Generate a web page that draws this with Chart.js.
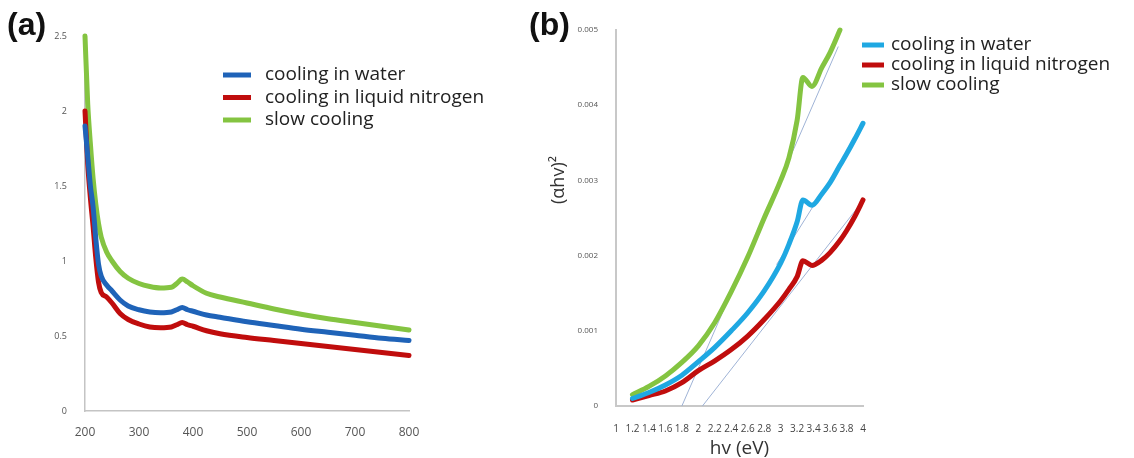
<!DOCTYPE html>
<html>
<head>
  <meta charset="utf-8">
  <title>Optical absorption and Tauc plot</title>
  <script src="https://cdn.jsdelivr.net/npm/chart.js"></script>
  <style>
    body { margin: 0; background: #fff; width: 1134px; height: 458px; position: relative; overflow: hidden; }
    canvas { position: absolute; top: 0; }
    #chartA { left: 0; }
    #chartB { left: 530px; }
    .tag { position: absolute; top: 8px; font: bold 32px "Liberation Sans", Arial, sans-serif; line-height: 32px; color: #111; }
  </style>
</head>
<body>

<canvas id="chartA" width="520" height="458"></canvas>
<canvas id="chartB" width="604" height="458"></canvas>
<div class="tag" style="left:7px">(a)</div>
<div class="tag" style="left:529px">(b)</div>

<script>
  // (a) wavelength (nm) vs absorbance
  const wavelength = [200, 205, 210, 215, 220, 225, 230, 240, 250, 265, 280, 300, 320, 340, 360, 370, 380, 390, 400, 425, 450, 500, 550, 600, 650, 700, 750, 800];
  const absWater    = [1.9, 1.7, 1.5, 1.36, 1.15, 0.98, 0.9, 0.84, 0.8, 0.74, 0.7, 0.675, 0.66, 0.655, 0.66, 0.675, 0.69, 0.675, 0.665, 0.64, 0.625, 0.595, 0.57, 0.545, 0.525, 0.505, 0.485, 0.47];
  const absNitrogen = [2.0, 1.65, 1.42, 1.23, 1.02, 0.86, 0.79, 0.76, 0.72, 0.65, 0.61, 0.58, 0.56, 0.555, 0.56, 0.575, 0.59, 0.575, 0.565, 0.535, 0.515, 0.49, 0.47, 0.45, 0.43, 0.41, 0.39, 0.37];
  const absSlow     = [2.5, 2.05, 1.78, 1.55, 1.38, 1.25, 1.16, 1.06, 1.0, 0.93, 0.885, 0.85, 0.83, 0.82, 0.825, 0.85, 0.88, 0.86, 0.835, 0.785, 0.76, 0.72, 0.68, 0.645, 0.615, 0.59, 0.565, 0.54];

  // (b) photon energy (eV) vs (alpha h nu)^2
  const hv = [1.2, 1.4, 1.6, 1.8, 2.0, 2.2, 2.4, 2.6, 2.8, 3.0, 3.1, 3.2, 3.27, 3.38, 3.5, 3.6, 3.72, 3.8, 3.9, 4.0];
  const taucWater    = [0.0001, 0.00018, 0.00028, 0.00041, 0.00059, 0.00078, 0.001, 0.00124, 0.00153, 0.0019, 0.00215, 0.00245, 0.00274, 0.00267, 0.00282, 0.00297, 0.0032, 0.00335, 0.00355, 0.00376];
  const taucNitrogen = [0.00008, 0.00014, 0.0002, 0.00031, 0.00047, 0.0006, 0.00075, 0.00093, 0.00115, 0.0014, 0.00155, 0.00172, 0.00193, 0.00187, 0.00194, 0.00204, 0.0022, 0.00233, 0.00252, 0.00274];
  const taucSlow     = [0.00015, 0.00026, 0.0004, 0.00058, 0.0008, 0.00111, 0.00152, 0.00198, 0.0025, 0.003, 0.0033, 0.0038, 0.00437, 0.00425, 0.0045, 0.0047, 0.005, null, null, null];

  // linear fits used for the band gap
  const fitSlowX = [1.8, 3.7];
  const fitSlowY = [0, 0.00478];
  const fitNitrogenX = [2.05, 4.0];
  const fitNitrogenY = [0, 0.00273];
  const fitWaterX = [2.95, 3.42];
  const fitWaterY = [0.00188, 0.0027];

  const seriesNames = ['cooling in water', 'cooling in liquid nitrogen', 'slow cooling'];

  function pts(xs, ys) {
    const out = [];
    xs.forEach((x, i) => { if (ys[i] !== null) out.push({ x: x, y: ys[i] }); });
    return out;
  }

  // short-line legend at a fixed spot, plus an optional rotated y title
  const lineLegend = {
    id: 'lineLegend',
    afterDraw(chart, args, opts) {
      const ctx = chart.ctx;
      ctx.save();
      ctx.font = opts.font;
      ctx.textBaseline = 'middle';
      let row = 0;
      chart.data.datasets.forEach(ds => {
        if (!ds.label) return;
        const y = opts.y + row * opts.gap;
        ctx.strokeStyle = ds.borderColor;
        ctx.lineWidth = 5;
        ctx.beginPath();
        ctx.moveTo(opts.x, y);
        ctx.lineTo(opts.x + opts.len, y);
        ctx.stroke();
        ctx.fillStyle = '#222';
        ctx.fillText(ds.label, opts.x + opts.len + opts.space, y);
        row++;
      });
      if (opts.yTitle) {
        ctx.translate(opts.yTitle.x, opts.yTitle.y);
        ctx.rotate(-Math.PI / 2);
        ctx.textAlign = 'center';
        ctx.font = opts.yTitle.font;
        ctx.fillStyle = '#333';
        ctx.fillText(opts.yTitle.text, 0, 0);
      }
      ctx.restore();
    }
  };

  function curve(label, data, color) {
    return { label: label, data: data, borderColor: color, borderWidth: 5, pointRadius: 0,
             cubicInterpolationMode: 'monotone', clip: false, borderCapStyle: 'round' };
  }
  function fit(data) {
    return { data: data, borderColor: '#9fb3d6', borderWidth: 1, pointRadius: 0, clip: false };
  }
  const oneDecimal = v => String(+v.toFixed(1));

  new Chart(document.getElementById('chartA'), {
    type: 'line',
    data: {
      datasets: [
        curve(seriesNames[0], pts(wavelength, absWater), '#1f63b8'),
        curve(seriesNames[1], pts(wavelength, absNitrogen), '#c00d0d'),
        curve(seriesNames[2], pts(wavelength, absSlow), '#84c441')
      ]
    },
    options: {
      responsive: false,
      animation: false,
      layout: { padding: { left: 40, right: 111, top: 36, bottom: 0 } },
      plugins: {
        legend: { display: false },
        tooltip: { enabled: false },
        lineLegend: { x: 223, y: 75, gap: 22.5, len: 28, space: 14, font: '19px "Open Sans", sans-serif' }
      },
      scales: {
        x: {
          type: 'linear', min: 200, max: 800,
          ticks: { stepSize: 100, padding: 14, color: '#555', font: { family: 'Open Sans', size: 12 } },
          grid: { display: false, drawTicks: false },
          border: { color: '#c4c4c4', width: 1.5 },
          afterFit: s => { s.height = 47; }
        },
        y: {
          min: 0, max: 2.5,
          ticks: { stepSize: 0.5, padding: 18, color: '#555', callback: oneDecimal,
                   font: { family: 'Liberation Sans Narrow, Open Sans', size: 9 } },
          grid: { display: false, drawTicks: false },
          border: { color: '#c4c4c4', width: 1.5 },
          afterFit: s => { s.width = 45; }
        }
      }
    },
    plugins: [lineLegend]
  });

  new Chart(document.getElementById('chartB'), {
    type: 'line',
    data: {
      datasets: [
        curve(seriesNames[0], pts(hv, taucWater), '#1fa8e2'),
        curve(seriesNames[1], pts(hv, taucNitrogen), '#c00d0d'),
        curve(seriesNames[2], pts(hv, taucSlow), '#84c441'),
        fit(pts(fitSlowX, fitSlowY)),
        fit(pts(fitNitrogenX, fitNitrogenY)),
        fit(pts(fitWaterX, fitWaterY))
      ]
    },
    options: {
      responsive: false,
      animation: false,
      layout: { padding: { left: 19, right: 271, top: 30, bottom: 0 } },
      plugins: {
        legend: { display: false },
        tooltip: { enabled: false },
        lineLegend: { x: 332, y: 45, gap: 20, len: 22, space: 7, font: '19px "Open Sans", sans-serif',
                      yTitle: { text: '(αhv)²', x: 29, y: 180, font: '18px "Open Sans", sans-serif' } }
      },
      scales: {
        x: {
          type: 'linear', min: 1, max: 4,
          ticks: { stepSize: 0.2, autoSkip: false, maxRotation: 0, padding: 17, color: '#444', callback: oneDecimal,
                   font: { family: 'Liberation Sans Narrow, Open Sans', size: 10 } },
          grid: { display: false, drawTicks: false },
          border: { color: '#c8c8c8', width: 2 },
          title: { display: true, text: 'hv (eV)', color: '#333', padding: 0,
                   font: { family: 'Open Sans', size: 19, lineHeight: 1 } },
          afterFit: s => { s.height = 52; }
        },
        y: {
          min: 0, max: 0.005,
          ticks: { stepSize: 0.001, padding: 18, color: '#555',
                   font: { family: 'Liberation Sans Narrow, Open Sans', size: 8 } },
          grid: { display: false, drawTicks: false },
          border: { color: '#c8c8c8', width: 2 },
          afterFit: s => { s.width = 67; }
        }
      }
    },
    plugins: [lineLegend]
  });
</script>

</body>
</html>
